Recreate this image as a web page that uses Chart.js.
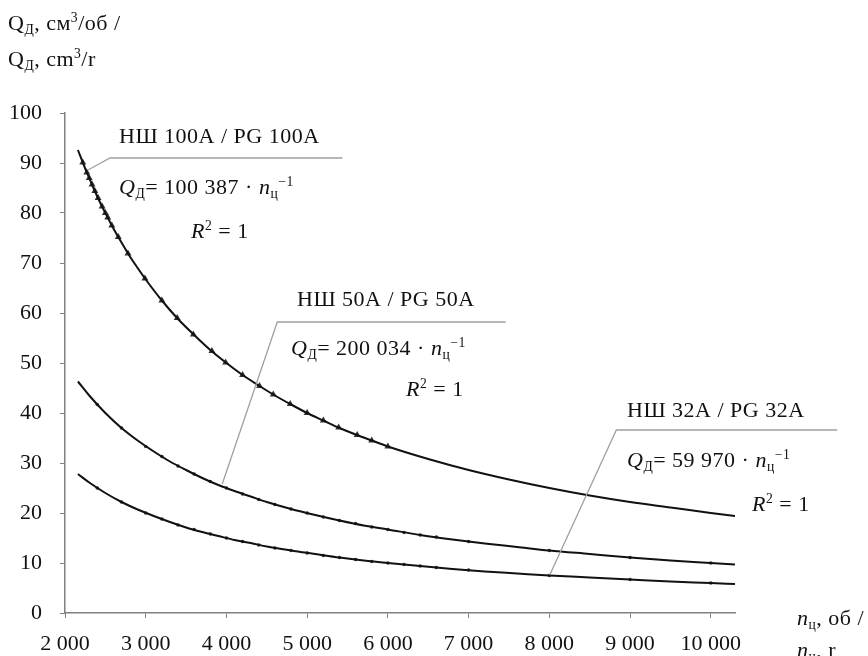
<!DOCTYPE html>
<html>
<head>
<meta charset="utf-8">
<script src="https://cdn.jsdelivr.net/npm/chart.js@4"></script>
<style>
  body { margin: 0; background: #fff; }
  #chart { display: block; }
</style>
</head>
<body>
<canvas id="chart" width="868" height="656"></canvas>
<script>
// n, rpm and Q, cm3/rev (fitted curves)
const nTop = [2160, 2250, 2300, 2350, 2400, 2450, 2500, 2600, 2700, 2800, 2900, 3000, 3200, 3400, 3600, 3800, 4000, 4200, 4400, 4600, 4800, 5000, 5200, 5400, 5600, 5800, 6000, 6500, 7000, 7500, 8000, 8500, 9000, 9500, 10000, 10300];
const qTop = [92.6, 88.9, 87.0, 85.1, 83.3, 81.6, 80.0, 76.9, 74.1, 71.4, 69.0, 66.7, 62.5, 58.8, 55.6, 52.6, 50.0, 47.6, 45.5, 43.5, 41.7, 40.0, 38.5, 37.0, 35.7, 34.5, 33.3, 30.8, 28.6, 26.7, 25.0, 23.5, 22.2, 21.1, 20.0, 19.4];

const nMid = [2160, 2300, 2500, 2700, 2900, 3100, 3300, 3500, 3700, 3900, 4100, 4300, 4500, 4800, 5100, 5400, 5700, 6000, 6400, 6800, 7200, 7600, 8000, 8500, 9000, 9500, 10000, 10300];
const qMid = [46.3, 43.5, 40.0, 37.0, 34.5, 32.3, 30.3, 28.6, 27.0, 25.6, 24.4, 23.3, 22.2, 20.8, 19.6, 18.5, 17.5, 16.7, 15.6, 14.7, 13.9, 13.2, 12.5, 11.8, 11.1, 10.5, 10.0, 9.7];

const nLow = [2160, 2300, 2500, 2700, 2900, 3100, 3300, 3500, 3700, 3900, 4100, 4300, 4500, 4800, 5100, 5400, 5700, 6000, 6400, 6800, 7200, 7600, 8000, 8500, 9000, 9500, 10000, 10300];
const qLow = [27.8, 26.1, 24.0, 22.2, 20.7, 19.4, 18.2, 17.1, 16.2, 15.4, 14.6, 14.0, 13.3, 12.5, 11.8, 11.1, 10.5, 10.0, 9.4, 8.8, 8.3, 7.9, 7.5, 7.1, 6.7, 6.3, 6.0, 5.8];

// measured points (markers)
const nTopPts = [2220, 2270, 2300, 2335, 2370, 2410, 2460, 2500, 2530, 2580, 2660, 2780, 2990, 3200, 3390, 3590, 3820, 3990, 4200, 4410, 4580, 4790, 5000, 5200, 5390, 5620, 5800, 6000];
const qTopPts = [90.1, 88.1, 87.0, 85.7, 84.4, 83.0, 81.3, 80.0, 79.1, 77.5, 75.2, 71.9, 66.9, 62.5, 59.0, 55.7, 52.4, 50.1, 47.6, 45.4, 43.7, 41.8, 40.0, 38.5, 37.1, 35.6, 34.5, 33.3];

const nMidPts = [2400, 2700, 3000, 3200, 3400, 3600, 3800, 4000, 4200, 4400, 4600, 4800, 5000, 5200, 5400, 5600, 5800, 6000, 6200, 6400, 6600, 7000, 8000, 9000, 10000];
const qMidPts = [41.7, 37.0, 33.3, 31.3, 29.4, 27.8, 26.3, 25.0, 23.8, 22.7, 21.7, 20.8, 20.0, 19.2, 18.5, 17.9, 17.2, 16.7, 16.1, 15.6, 15.2, 14.3, 12.5, 11.1, 10.0];

const nLowPts = [2400, 2700, 3000, 3200, 3400, 3600, 3800, 4000, 4200, 4400, 4600, 4800, 5000, 5200, 5400, 5600, 5800, 6000, 6200, 6400, 6600, 7000, 8000, 9000, 10000];
const qLowPts = [25.0, 22.2, 20.0, 18.8, 17.6, 16.7, 15.8, 15.0, 14.3, 13.6, 13.0, 12.5, 12.0, 11.5, 11.1, 10.7, 10.3, 10.0, 9.7, 9.4, 9.1, 8.6, 7.5, 6.7, 6.0];

const xTicks = [2000, 3000, 4000, 5000, 6000, 7000, 8000, 9000, 10000];

const labels = ['НШ 100A / PG 100A', 'НШ 50A / PG 50A', 'НШ 32A / PG 32A'];
const coefs = ['100 387', '200 034', '59 970'];

const FONT = '"Liberation Serif", "Times New Roman", serif';

function pts(xs, ys) {
    return xs.map((x, i) => ({ x: x, y: ys[i] }));
}

function fmt(v) {
    return String(v).replace(/\B(?=(\d{3})+(?!\d))/g, ' ');
}

// text with italic / sub / sup pieces
function drawRich(ctx, x, y, parts, size) {
    parts.forEach(([t, k]) => {
        let s = size, dy = 0, st = '';
        if (k.includes('i')) st = 'italic ';
        if (k.includes('b')) { s = size * 0.62; dy = size * 0.16; }
        if (k.includes('p')) { s = size * 0.62; dy = -size * 0.38; }
        ctx.font = st + s + 'px ' + FONT;
        ctx.fillText(t, x, y + dy);
        x += ctx.measureText(t).width;
    });
}

const notes = {
    id: 'notes',
    afterDraw(chart) {
        const { ctx, scales: { x, y } } = chart;
        const P = (a, b) => [x.getPixelForValue(a), y.getPixelForValue(b)];

        // leader lines
        const leaders = [
            [[2285, 88.6], [2558, 91], [5437, 91]],
            [[3948, 25.8], [4630, 58.2], [7459, 58.2]],
            [[8005, 7.6], [8830, 36.6], [11565, 36.6]]
        ];
        ctx.save();
        ctx.strokeStyle = '#a0a0a0';
        ctx.lineWidth = 1.3;
        leaders.forEach(l => {
            ctx.beginPath();
            l.forEach((p, i) => {
                const [px, py] = P(p[0], p[1]);
                if (i === 0) ctx.moveTo(px, py); else ctx.lineTo(px, py);
            });
            ctx.stroke();
        });

        ctx.fillStyle = '#111';
        ctx.textBaseline = 'alphabetic';
        ctx.textAlign = 'left';
        ctx.letterSpacing = '0.5px';

        const spots = [
            { lab: [119, 143], eq: [119, 194], r: [191, 238] },
            { lab: [297, 306], eq: [291, 355], r: [406, 396] },
            { lab: [627, 417], eq: [627, 467], r: [752, 511] }
        ];
        spots.forEach((s, i) => {
            drawRich(ctx, s.lab[0], s.lab[1], [[labels[i], '']], 22);
            drawRich(ctx, s.eq[0], s.eq[1], [['Q', 'i'], ['Д', 'b'], ['= ' + coefs[i] + ' · ', ''], ['n', 'i'], ['ц', 'b'], ['−1', 'p']], 22);
            drawRich(ctx, s.r[0], s.r[1], [['R', 'i'], ['2', 'p'], [' = 1', '']], 22);
        });

        // axis titles
        drawRich(ctx, 8, 30, [['Q', ''], ['Д', 'b'], [', см', ''], ['3', 'p'], ['/об /', '']], 22);
        drawRich(ctx, 8, 66, [['Q', ''], ['Д', 'b'], [', cm', ''], ['3', 'p'], ['/r', '']], 22);
        drawRich(ctx, 797, 625, [['n', 'i'], ['ц', 'b'], [', об /', '']], 22);
        drawRich(ctx, 797, 657, [['n', 'i'], ['ц', 'b'], [', r', '']], 22);
        ctx.restore();
    }
};

const axisGrey = '#808080';

function curve(xs, ys) {
    return {
        data: pts(xs, ys),
        borderColor: '#111',
        borderWidth: 2,
        cubicInterpolationMode: 'monotone',
        pointRadius: 0
    };
}

function marks(xs, ys, style, r) {
    return {
        data: pts(xs, ys),
        showLine: false,
        pointStyle: style,
        pointRadius: r,
        pointBackgroundColor: '#333',
        pointBorderColor: '#333',
        pointBorderWidth: 0
    };
}

new Chart(document.getElementById('chart').getContext('2d'), {
    type: 'line',
    data: {
        datasets: [
            curve(nTop, qTop),
            curve(nMid, qMid),
            curve(nLow, qLow),
            marks(nTopPts, qTopPts, 'triangle', 4),
            marks(nMidPts, qMidPts, 'circle', 1.8),
            marks(nLowPts, qLowPts, 'circle', 1.8)
        ]
    },
    options: {
        responsive: false,
        animation: false,
        layout: { padding: { left: 0, right: 133, top: 113, bottom: 0 } },
        plugins: {
            legend: { display: false },
            tooltip: { enabled: false }
        },
        scales: {
            x: {
                type: 'linear',
                min: 2000,
                max: 10300,
                afterFit: s => { s.height = 43; },
                afterBuildTicks: s => { s.ticks = xTicks.map(v => ({ value: v })); },
                grid: { drawOnChartArea: false, tickLength: 5, color: axisGrey },
                border: { color: axisGrey, width: 1.5 },
                ticks: {
                    autoSkip: false,
                    maxRotation: 0,
                    padding: 13,
                    color: '#111',
                    font: { family: FONT, size: 22 },
                    callback: v => fmt(v)
                }
            },
            y: {
                min: 0,
                max: 100,
                afterFit: s => { s.width = 65; },
                grid: { drawOnChartArea: false, tickLength: 5, color: axisGrey },
                border: { color: axisGrey, width: 1.5 },
                ticks: {
                    stepSize: 10,
                    padding: 18,
                    color: '#111',
                    font: { family: FONT, size: 22 }
                }
            }
        }
    },
    plugins: [notes]
});
</script>
</body>
</html>
